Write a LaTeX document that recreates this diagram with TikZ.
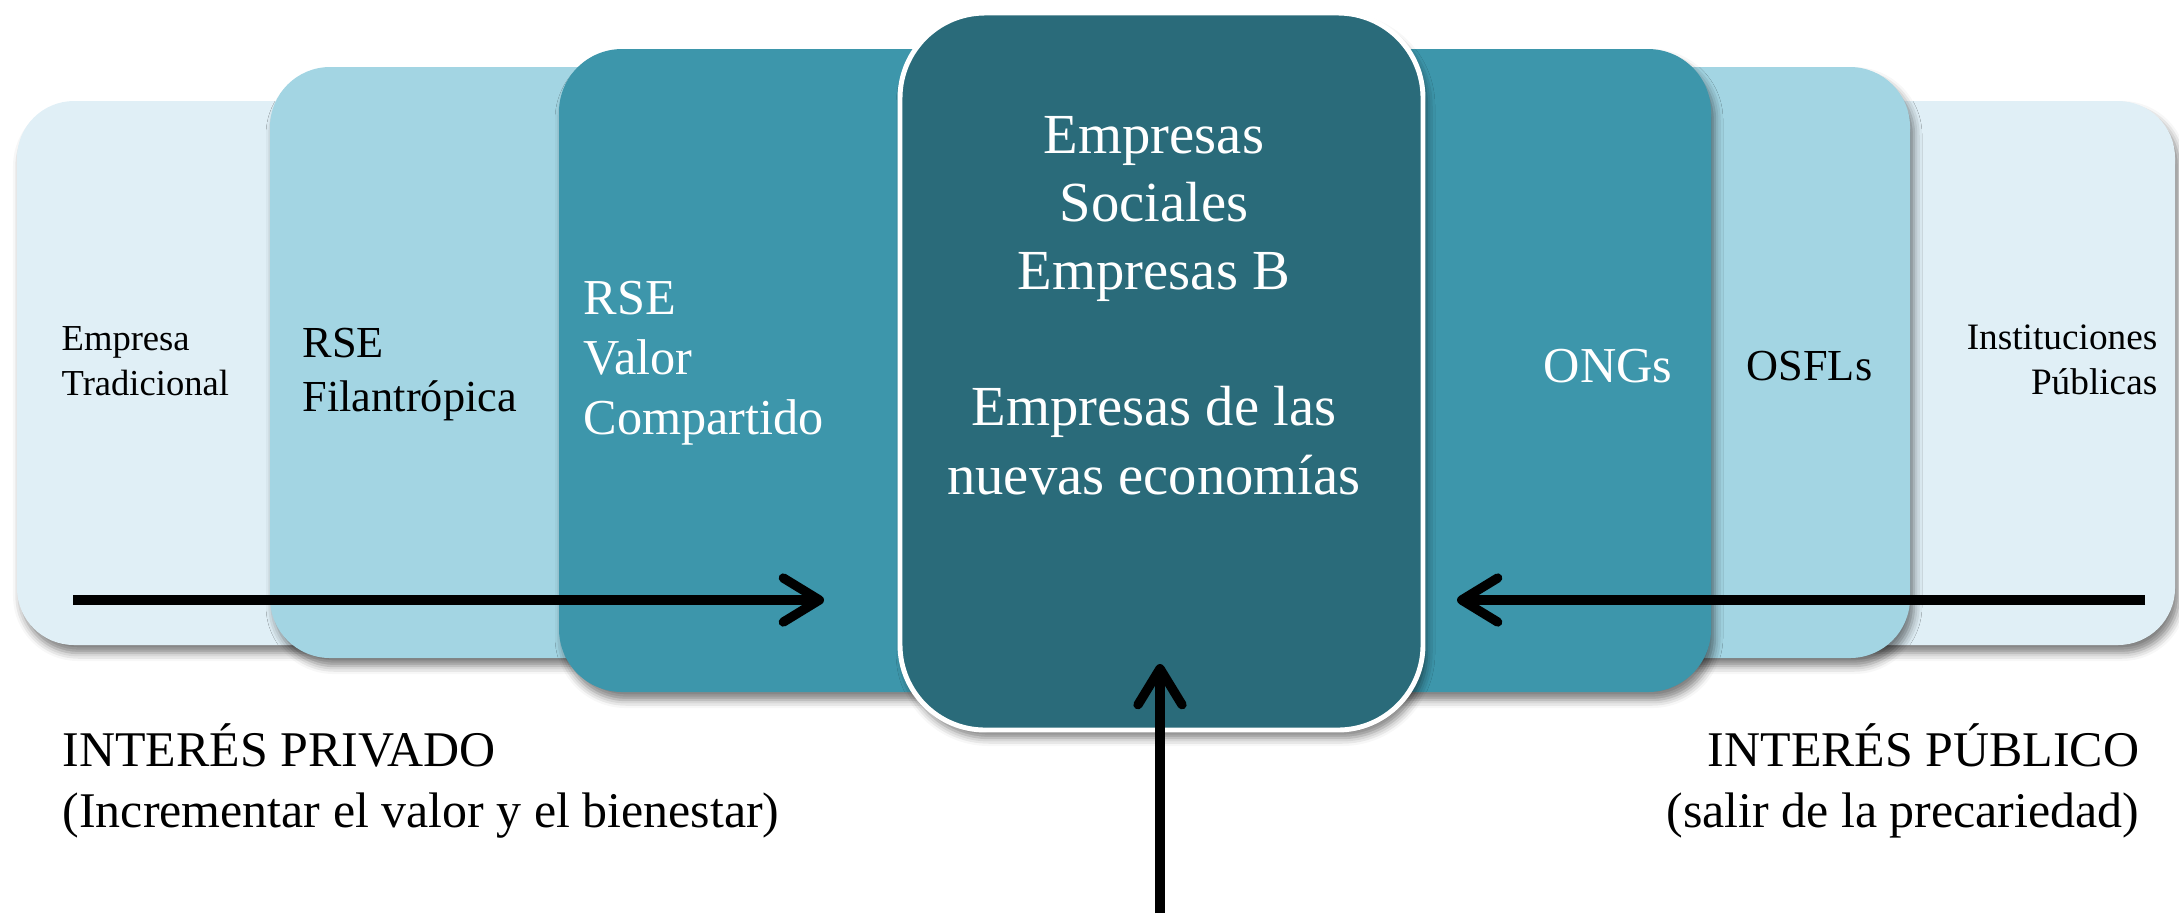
\documentclass[tikz,border=0pt]{standalone}
\usepackage{fontspec}
\setmainfont{Liberation Serif}
\usetikzlibrary{arrows.meta,shadows.blur}

\definecolor{tealpale}{HTML}{E0EFF6}
\definecolor{teallight}{HTML}{A3D5E3}
\definecolor{tealmid}{HTML}{3D96AB}
\definecolor{tealdark}{HTML}{2A6B7A}

\begin{document}
\begin{tikzpicture}[x=0.01cm, y=-0.01cm,
  panel/.style={blur shadow={shadow xshift=0.04cm, shadow yshift=-0.08cm, shadow blur radius=0.08cm, shadow opacity=50}},
  texto/.style={inner sep=0pt, font=#1},
  flecha/.style={line width=2.65pt, -{Straight Barb[length=3.6mm, width=4.4mm, round]}}
]
  \useasboundingbox (0,0) rectangle (2179,917);

  % franjas, de atras hacia adelante
  \path[panel, fill=tealpale, rounded corners=0.57cm] (17,101) rectangle (2175,645);
  \path[panel, fill=teallight, rounded corners=0.6cm] (270,67) rectangle (1910,658);
  \path[panel, fill=tealmid, rounded corners=0.63cm] (559,49) rectangle (1711,692);
  \path[panel, fill=tealdark, draw=white, line width=1.4pt, rounded corners=0.85cm] (900,13) rectangle (1423,730);

  % lado privado
  \node[texto={\fontsize{10.4}{12.8}\selectfont}, align=left, anchor=north west] (tradicional) at (61,326) {Empresa\\Tradicional};
  \node[texto={\fontsize{12.6}{15.4}\selectfont}, align=left, anchor=north west] (filantropica) at (302,327) {RSE\\Filantrópica};
  \node[texto={\fontsize{14.3}{17.1}\selectfont}, text=white, align=left, anchor=north west] (compartido) at (583,280) {RSE\\Valor\\Compartido};

  % centro
  \node[texto={\fontsize{16.1}{19.35}\selectfont}, text=white, align=center, anchor=north] (sociales) at (1154,116)
    {Empresas\\Sociales\\Empresas B\\ \\Empresas de las\\nuevas economías};

  % lado publico
  \node[texto={\fontsize{14.3}{17.1}\selectfont}, text=white, anchor=north west] (ongs) at (1543,348) {ONGs};
  \node[texto={\fontsize{12.6}{15.4}\selectfont}, anchor=north west] (osfls) at (1746,350) {OSFLs};
  \node[texto={\fontsize{10.6}{12.8}\selectfont}, align=right, anchor=north east] (instituciones) at (2158,324) {Instituciones\\Públicas};

  % intereses
  \node[texto={\fontsize{14.2}{17.4}\selectfont}, align=left, anchor=north west] (privado) at (62,723)
    {INTERÉS PRIVADO\\(Incrementar el valor y el bienestar)};
  \node[texto={\fontsize{14.2}{17.4}\selectfont}, align=right, anchor=north east] (publico) at (2140,723)
    {INTERÉS PÚBLICO\\(salir de la precariedad)};

  % flechas
  \coordinate (privado ini) at (73,600);
  \coordinate (privado fin) at (824,600);
  \coordinate (publico ini) at (2145,600);
  \coordinate (publico fin) at (1457,600);
  \coordinate (base ini) at (1160,913);
  \coordinate (base fin) at (1160,664);
  \draw[flecha] (privado ini) -- (privado fin);
  \draw[flecha] (publico ini) -- (publico fin);
  \draw[flecha] (base ini) -- (base fin);
\end{tikzpicture}
\end{document}
